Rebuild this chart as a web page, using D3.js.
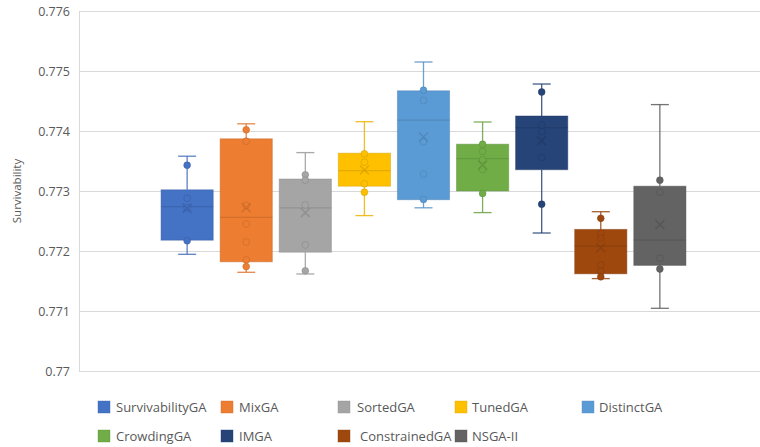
<!DOCTYPE html>
<html>
<head>
<meta charset="utf-8">
<script src="https://cdn.jsdelivr.net/npm/d3@7"></script>
<style>
  html, body { margin: 0; padding: 0; background: #fff; }
  svg { display: block; font-family: "Open Sans", "Noto Sans", sans-serif; }
</style>
</head>
<body>
<svg id="chart" width="760" height="447"></svg>
<script>
// Algorithms compared, in plotting order
const categories = ["SurvivabilityGA", "MixGA", "SortedGA", "TunedGA", "DistinctGA",
                    "CrowdingGA", "IMGA", "ConstrainedGA", "NSGA-II"];
const colors = ["#4472C4", "#ED7D31", "#A5A5A5", "#FFC000", "#5B9BD5",
                "#70AD47", "#264478", "#9E480E", "#636363"];

// Box-and-whisker statistics per algorithm
const whiskerLow  = [0.771945, 0.771645, 0.771617, 0.77259, 0.77272, 0.77264, 0.77230, 0.77154, 0.771045];
const q1          = [0.77218, 0.77182, 0.77198, 0.77308, 0.772855, 0.77300, 0.773355, 0.77162, 0.77176];
const median      = [0.77274, 0.77256, 0.77272, 0.77334, 0.77418, 0.77354, 0.774055, 0.77208, 0.77218];
const q3          = [0.77302, 0.77387, 0.77320, 0.77363, 0.77467, 0.77378, 0.77425, 0.77236, 0.77308];
const whiskerHigh = [0.77358, 0.77412, 0.77364, 0.774155, 0.77515, 0.77415, 0.774783, 0.772655, 0.77444];
const means       = [0.77271, 0.77272, 0.77264, 0.77335, 0.77390, 0.77343, 0.77384, 0.772055, 0.77244];

// Individual runs shown as inner points
const points = [
  [0.77343, 0.77288, 0.77272, 0.77217],
  [0.77402, 0.77383, 0.77276, 0.77245, 0.77215, 0.77185, 0.77174],
  [0.77327, 0.77318, 0.77277, 0.77210, 0.77167],
  [0.77362, 0.77348, 0.77312, 0.77298],
  [0.77468, 0.77451, 0.77382, 0.77328, 0.77286],
  [0.77378, 0.77366, 0.77352, 0.77336, 0.77296],
  [0.77465, 0.77410, 0.77399, 0.77356, 0.77278],
  [0.772545, 0.772295, 0.77221, 0.771767, 0.771655, 0.77157],
  [0.77318, 0.77298, 0.77188, 0.77170]
];

const yTicks = [0.770, 0.771, 0.772, 0.773, 0.774, 0.775, 0.776];
const yTickLabels = ["0.77", "0.771", "0.772", "0.773", "0.774", "0.775", "0.776"];
const yTitle = "Survivability";

const svg = d3.select("#chart");
const plot = { left: 79, right: 768, top: 11, bottom: 371 };

const y = d3.scaleLinear().domain([0.770, 0.776]).range([plot.bottom, plot.top]);
const x = d3.scaleBand().domain(categories).range([plot.left, plot.right])
  .paddingInner(0.1).paddingOuter(1.38);

const textColor = "#595959";
const gridColor = "#d9d9d9";

// Horizontal gridlines
svg.append("g").selectAll("line").data(yTicks).join("line")
  .attr("x1", plot.left).attr("x2", plot.right)
  .attr("y1", d => Math.round(y(d)) + 0.5).attr("y2", d => Math.round(y(d)) + 0.5)
  .attr("stroke", gridColor).attr("stroke-width", 1);

// Left axis line
svg.append("line")
  .attr("x1", plot.left + 0.5).attr("x2", plot.left + 0.5)
  .attr("y1", plot.top).attr("y2", plot.bottom)
  .attr("stroke", gridColor);

// Y tick labels
const yAxis = d3.axisLeft(y).tickValues(yTicks)
  .tickFormat((d, i) => yTickLabels[i]).tickSize(0).tickPadding(9);
const ya = svg.append("g").attr("transform", `translate(${plot.left},0)`).call(yAxis);
ya.select(".domain").remove();
ya.selectAll("text").attr("fill", textColor).style("font-size", "12.5px")
  .style("font-family", "'Open Sans', 'Noto Sans', sans-serif");

// Y axis title
svg.append("text")
  .attr("transform", `translate(21,${(plot.top + plot.bottom) / 2}) rotate(-90)`)
  .attr("text-anchor", "middle").attr("fill", textColor)
  .style("font-size", "11.5px").text(yTitle);

// Boxes
const bw = x.bandwidth();
const capW = 18;
const groups = svg.append("g").selectAll("g").data(categories).join("g")
  .attr("transform", d => `translate(${x(d)},0)`);

groups.each(function (name, i) {
  const g = d3.select(this);
  const c = colors[i];
  const dark = d3.color(c).darker(0.6).formatHex();
  const cx = bw / 2;

  // Whiskers with caps
  const wStroke = d3.color(c).darker(0.2).formatHex();
  g.append("line").attr("x1", cx).attr("x2", cx)
    .attr("y1", y(whiskerHigh[i])).attr("y2", y(q3[i]))
    .attr("stroke", wStroke).attr("stroke-width", 1.3).attr("stroke-opacity", 0.85);
  g.append("line").attr("x1", cx).attr("x2", cx)
    .attr("y1", y(q1[i])).attr("y2", y(whiskerLow[i]))
    .attr("stroke", wStroke).attr("stroke-width", 1.3).attr("stroke-opacity", 0.85);
  [whiskerHigh[i], whiskerLow[i]].forEach(v => {
    g.append("line").attr("x1", cx - capW / 2).attr("x2", cx + capW / 2)
      .attr("y1", y(v)).attr("y2", y(v))
      .attr("stroke", wStroke).attr("stroke-width", 1.3).attr("stroke-opacity", 0.85);
  });

  // Interquartile box
  g.append("rect")
    .attr("x", 0.5).attr("width", bw - 1)
    .attr("y", y(q3[i])).attr("height", y(q1[i]) - y(q3[i]))
    .attr("fill", c).attr("stroke", dark).attr("stroke-opacity", 0.45).attr("stroke-width", 1);

  // Median
  g.append("line").attr("x1", 0.5).attr("x2", bw - 0.5)
    .attr("y1", y(median[i])).attr("y2", y(median[i]))
    .attr("stroke", dark).attr("stroke-opacity", 0.55).attr("stroke-width", 1.2);

  // Inner points
  g.selectAll("circle").data(points[i]).join("circle")
    .attr("cx", cx).attr("cy", d => y(d)).attr("r", 3.4)
    .attr("fill", c).attr("stroke", dark).attr("stroke-opacity", 0.5).attr("stroke-width", 1);

  // Mean marker
  const m = y(means[i]), s = 4.5;
  g.append("path")
    .attr("d", `M${cx - s},${m - s}L${cx + s},${m + s}M${cx - s},${m + s}L${cx + s},${m - s}`)
    .attr("stroke", dark).attr("stroke-opacity", 0.6).attr("stroke-width", 1.5).attr("fill", "none");
});

// Legend
const legendCols = [98, 221, 338, 455, 582];
const legendRows = [407, 436];
const legendTextX = [116, 239, 357, 472, 599];
const legend = svg.append("g").selectAll("g").data(categories).join("g")
  .attr("transform", (d, i) => `translate(${legendCols[i % 5]},${legendRows[Math.floor(i / 5)]})`);
legend.append("rect").attr("x", 0).attr("y", -6).attr("width", 12).attr("height", 12)
  .attr("fill", (d, i) => colors[i])
  .attr("stroke", (d, i) => d3.color(colors[i]).darker(0.4).formatHex()).attr("stroke-opacity", 0.4);
legend.append("text")
  .attr("x", (d, i) => legendTextX[i % 5] - legendCols[i % 5] + (i === 7 ? 3 : 0))
  .attr("y", 0).attr("dy", "0.35em").attr("fill", textColor)
  .style("font-size", "13px").text(d => d);
</script>
</body>
</html>
